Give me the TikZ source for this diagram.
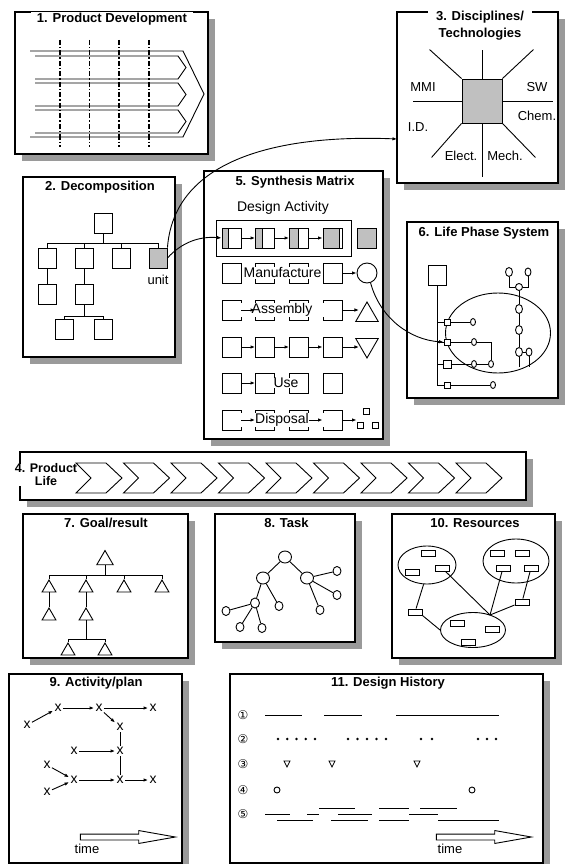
\documentclass[tikz,border=0pt]{standalone}
\usepackage{fontspec}
\setmainfont{Liberation Sans}
\newfontfamily\circfont{DejaVu Sans}
\usepackage{tikz}
\usetikzlibrary{arrows.meta,calc,shapes.geometric,shapes.arrows}
\definecolor{shadowgray}{HTML}{9A9A9A}
\definecolor{boxgray}{HTML}{C0C0C0}
\newcommand{\titlefont}{\fontsize{13}{15}\selectfont\bfseries}
\newcommand{\labelfont}{\fontsize{14}{16}\selectfont}
\newcommand{\smallfont}{\fontsize{13}{15}\selectfont}

\begin{document}
\begin{tikzpicture}[x=1pt,y=-1pt,line width=0.9pt,
  panelshadow/.style={fill=shadowgray},
  panelframe/.style={draw,fill=white,line width=1.2pt},
  paneltitle/.style={fill=white,inner xsep=#1,inner ysep=1pt,font=\titlefont,align=center},
  paneltitle/.default=6pt,
  tbox/.style={draw,fill=white,minimum width=18pt,minimum height=20pt,inner sep=0pt},
  mbox/.style={draw,minimum width=19pt,minimum height=20pt,inner sep=0pt},
  partfill/.style={path picture={\filldraw[fill=boxgray] (path picture bounding box.north west) rectangle ([xshift=#1]path picture bounding box.south west);}},
  masklabel/.style={fill=white,inner xsep=0.5pt,inner ysep=0.5pt,font=\labelfont},
  arrow/.style={-{Latex[length=4.5pt,width=3.5pt]},line width=0.9pt},
  lpsq/.style={draw,fill=white,minimum size=6pt,inner sep=0pt},
  lpoval/.style={draw,fill=white,ellipse,minimum width=5pt,minimum height=7pt,inner sep=0pt},
  goaltri/.style={draw,fill=white,regular polygon,regular polygon sides=3,minimum size=16pt,inner sep=0pt},
  taskbig/.style={draw,fill=white,ellipse,minimum width=13pt,minimum height=12pt,inner sep=0pt},
  tasksmall/.style={draw,fill=white,ellipse,minimum width=8pt,minimum height=9pt,inner sep=0pt},
  resbox/.style={draw,fill=white,minimum width=14pt,minimum height=6pt,inner sep=0pt},
  planx/.style={inner sep=1pt,font=\fontsize{14}{14}\selectfont},
  timearrow/.style={draw,fill=white,single arrow,single arrow head extend=3.5pt,single arrow tip angle=20,minimum height=95pt,inner sep=2.5pt}
]
\useasboundingbox (0,0) rectangle (565,864);

\fill[panelshadow] (22,19) rectangle (215,161);
\draw[panelframe] (15,12) rectangle (208,154);
\node[paneltitle] (devtitle) at (112,19) {1. Product Development};
\draw (30,51) -- (183,51) -- (204,94) -- (183,137) -- (30,137);
\foreach \y in {56,83,110}
  \draw (35,\y) -- (178,\y) -- (186,\y+11.5) -- (178,\y+23) -- (35,\y+23);
\foreach \x/\w in {60/1.4pt,89/0.8pt,119/1.4pt,149/1.4pt}
  \draw[line width=\w,dash pattern=on 5pt off 2pt on 1.5pt off 2pt] (\x,40) -- (\x,147);

\fill[panelshadow] (404,19) rectangle (565,190);
\draw[panelframe] (397,12) rectangle (558,183);
\node[paneltitle=8pt] (disctitle) at (480,26) {3. Disciplines/\\[2pt]Technologies};
\node[draw,fill=boxgray,minimum width=40pt,minimum height=44pt,inner sep=0pt] (core) at (482,101) {};
\draw (core.north) -- ++(0,-29);
\draw (core.south) -- ++(0,54);
\draw (core.west) -- ++(-49,0);
\draw (core.east) -- ++(51,0);
\draw (core.north west) -- ++(-32,-29);
\draw (core.north east) -- ++(31,-29);
\draw (core.south west) -- ++(-30,34);
\draw (core.south east) -- ++(33,34);
\node[font=\smallfont] (mmi) at (423,87) {MMI};
\node[font=\smallfont] (sw) at (537,87) {SW};
\node[font=\smallfont] (indd) at (418,127) {I.D.};
\node[font=\smallfont] (chem) at (537,116) {Chem.};
\node[font=\smallfont] (elect) at (461,156) {Elect.};
\node[font=\smallfont] (mech) at (505,156) {Mech.};
\coordinate (discin) at (397,139);

\fill[panelshadow] (30,184) rectangle (182,364);
\draw[panelframe] (23,177) rectangle (175,357);
\node[paneltitle=8.5pt] (decomptitle) at (100,187) {2. Decomposition};
\node[tbox] (root) at (103,223) {};
\node[tbox] (ch1) at (47,258) {};
\node[tbox] (ch2) at (84,258) {};
\node[tbox] (ch3) at (121,258) {};
\node[tbox,fill=boxgray] (unit) at (158,258) {};
\node[tbox] (ch11) at (47,294) {};
\node[tbox] (ch21) at (84,294) {};
\node[tbox] (ch211) at (64,329) {};
\node[tbox] (ch212) at (103,329) {};
\foreach \c in {ch1,ch2,ch3,unit}
  \draw (root.south) -- ++(0,10) -| (\c.north);
\draw (ch1) -- (ch11);
\draw (ch2) -- (ch21);
\foreach \c in {ch211,ch212}
  \draw (ch21.south) -- ++(0,12) -| (\c.north);
\node[font=\smallfont] (unitlabel) at (158,280) {unit};

\fill[panelshadow] (211,178) rectangle (390,446);
\draw[panelframe] (204,171) rectangle (383,439);
\node[paneltitle=13pt] (synthtitle) at (295,182) {5. Synthesis Matrix};
\node[font=\labelfont] (designact) at (283,208) {Design Activity};
\node[draw,minimum width=135pt,minimum height=36pt,inner sep=0pt] (activeband) at (283.5,238) {};
\node[mbox,partfill=6pt] (a1) at (231.5,238) {};
\node[mbox,partfill=7pt] (a2) at (265,238) {};
\node[mbox,partfill=9pt] (a3) at (299,238) {};
\node[mbox,partfill=16pt] (a4) at (332.5,238) {};
\node[mbox,fill=boxgray] (a5) at (367,238) {};
\draw[arrow] (a1) -- (a2);
\draw[arrow] (a2) -- (a3);
\draw[arrow] (a3) -- (a4);
\foreach \r/\y in {b/273,c/310,d/347,e/383,f/420}
  \foreach \c/\x in {1/231.5,2/265,3/299,4/332.5}
    \node[mbox] (\r\c) at (\x,\y) {};
\node[draw,circle,minimum size=20pt,inner sep=0pt] (b5) at (367,273) {};
\node[masklabel] (manuf) at (282.5,273) {Manufacture};
\draw[arrow] (b4) -- (b5);
\node[draw,regular polygon,regular polygon sides=3,minimum size=26pt,inner sep=0pt] (c5) at (367,315) {};
\node[masklabel,minimum width=86pt] (asmtxt) at (282,310) {Assembly};
\draw[arrow] (c1) -- (c2);
\draw[arrow] (c4.east) -- (c4.east -| c5.west);
\node[draw,regular polygon,regular polygon sides=3,shape border rotate=180,minimum size=26pt,inner sep=0pt] (d5) at (367,345) {};
\draw[arrow] (d1) -- (d2);
\draw[arrow] (d2) -- (d3);
\draw[arrow] (d3) -- (d4);
\draw[arrow] (d4.east) -- (d4.east -| d5.west);
\node[masklabel,inner xsep=2pt] (usetxt) at (286,383) {Use};
\draw[arrow] (e1) -- (e2);
\node[masklabel,minimum width=86pt] (disptxt) at (282,420) {Disposal};
\node[minimum width=20pt,minimum height=20pt,inner sep=0pt] (f5) at (367,420) {};
\node[draw,minimum size=6pt,inner sep=0pt] (f5a) at (366.5,411.5) {};
\node[draw,minimum size=6pt,inner sep=0pt] (f5b) at (360,425) {};
\node[draw,minimum size=6pt,inner sep=0pt] (f5c) at (375,425) {};
\draw[arrow] (f1) -- (f2);
\draw[arrow] (f3) -- (f4);
\draw[arrow] (f4) -- (f5);

\fill[panelshadow] (414,229) rectangle (565,405);
\draw[panelframe] (407,222) rectangle (558,398);
\node[paneltitle=7pt] (lifetitle) at (484,233) {6. Life Phase System};
\node[draw,ellipse,minimum width=105pt,minimum height=80pt,inner sep=0pt] (lifeoval) at (498,333) {};
\node[tbox] (lpmain) at (437.5,275) {};
\node[lpsq] (lsq1) at (447,322) {};
\node[lpsq] (lsq2) at (447,342) {};
\node[lpsq,minimum size=8pt] (lsq3) at (447,364) {};
\node[lpsq] (lsq4) at (447,385) {};
\foreach \s in {lsq1,lsq2,lsq3,lsq4}
  \draw (lpmain.south) |- (\s.west);
\node[lpoval] (lov1) at (473,322) {};
\node[lpoval] (lov2) at (474,342) {};
\node[lpoval] (lov3) at (474,364) {};
\node[lpoval] (lov3b) at (491,364) {};
\node[lpoval] (lov4) at (493,385) {};
\draw (lsq1) -- (lov1);
\draw (lsq2) -- (lov2);
\draw (lsq3) -- (lov3) -- (lov3b);
\draw (lsq4) -- (lov4);
\draw (lov2) -| (lov3b);
\node[lpoval,minimum width=7pt,minimum height=9pt] (rt1) at (509,272) {};
\node[lpoval,minimum width=6pt,minimum height=8pt] (rt2) at (528,272) {};
\node[lpoval,minimum width=7pt,minimum height=7pt] (rtm) at (519,287) {};
\node[lpoval,minimum width=7pt,minimum height=9pt] (rv1) at (519,309) {};
\node[lpoval,minimum width=7pt,minimum height=9pt] (rv2) at (519,330) {};
\node[lpoval,minimum width=7pt,minimum height=9pt] (rv3) at (519,352) {};
\node[lpoval,minimum width=6pt,minimum height=8pt] (rv3b) at (529,352) {};
\draw (rt1) |- (rtm);
\draw (rtm) -| (rt2);
\draw (rtm) -- (rv1) -- (rv2) -- (rv3);
\draw (rv3) -- ++(0,15);
\draw (rv3) -- (rv3b);
\draw (rv3b) -- ++(0,15);

\fill[panelshadow] (27,459) rectangle (533,507);
\draw[panelframe] (20,452) rectangle (526,500);
\node[paneltitle=1pt,inner ysep=0pt,font=\fontsize{12.5}{13}\selectfont\bfseries] (lifetitle4) at (46,475) {4. Product\\Life};
\foreach \i in {0,...,8}
  \draw ({76+47.5*\i},463) -- ({106+47.5*\i},463) -- ({122+47.5*\i},478) -- ({106+47.5*\i},493) -- ({76+47.5*\i},493) -- ({91+47.5*\i},478) -- cycle;

\fill[panelshadow] (30,521) rectangle (195,665);
\draw[panelframe] (23,514) rectangle (188,658);
\node[paneltitle=10pt] (goaltitle) at (106,523) {7. Goal/result};
\node[goaltri,minimum size=19pt] (g0) at (105,560) {};
\node[goaltri] (g1) at (49,588) {};
\node[goaltri] (g2) at (86,588) {};
\node[goaltri] (g3) at (124,588) {};
\node[goaltri] (g4) at (162,588) {};
\node[goaltri] (g11) at (49,616) {};
\node[goaltri] (g21) at (86,616) {};
\node[goaltri] (g211) at (68,651) {};
\node[goaltri] (g212) at (105,651) {};
\foreach \g in {g1,g2,g3,g4}
  \draw (g0.south) -- ++(0,10) -| (\g.north);
\draw (g1) -- (g11);
\draw (g2) -- (g21);
\foreach \g in {g211,g212}
  \draw (g21.south) -- ++(0,19) -| (\g.north);

\fill[panelshadow] (222,521) rectangle (362,649);
\draw[panelframe] (215,514) rectangle (355,642);
\node[paneltitle=9.5pt] (tasktitle) at (286.5,523) {8. Task};
\node[taskbig] (k0) at (285,557) {};
\node[taskbig] (k1) at (263,578) {};
\node[taskbig] (k2) at (307,578) {};
\node[tasksmall] (k21) at (337,571) {};
\node[tasksmall] (k22) at (337,595) {};
\node[tasksmall] (k23) at (320,610) {};
\node[tasksmall,minimum width=9pt,minimum height=10pt] (k11) at (255,603) {};
\node[tasksmall] (k12) at (279,606) {};
\node[tasksmall] (k111) at (226,611) {};
\node[tasksmall] (k112) at (240,627) {};
\node[tasksmall] (k113) at (262,628) {};
\draw (k0) -- (k1);
\draw (k0) -- (k2);
\foreach \k in {k21,k22,k23}
  \draw (k2) -- (\k);
\foreach \k in {k11,k12}
  \draw (k1) -- (\k);
\foreach \k in {k111,k112,k113}
  \draw (k11) -- (\k);

\fill[panelshadow] (399,521) rectangle (562,665);
\draw[panelframe] (392,514) rectangle (555,658);
\node[paneltitle=9pt] (restitle) at (475,523) {10. Resources};
\node[draw,ellipse,minimum width=58pt,minimum height=38pt,inner sep=0pt] (pool1) at (427,565) {};
\node[draw,ellipse,minimum width=66pt,minimum height=44pt,inner sep=0pt] (pool2) at (516,561) {};
\node[draw,ellipse,minimum width=65pt,minimum height=35pt,inner sep=0pt] (pool3) at (473,630) {};
\node[resbox] (r11) at (428,553) {};
\node[resbox] (r12) at (412,572) {};
\node[resbox] (r13) at (442,568) {};
\node[resbox] (r21) at (497,553) {};
\node[resbox] (r22) at (522,553) {};
\node[resbox] (r23) at (503,568) {};
\node[resbox] (r24) at (531,568) {};
\node[resbox] (r31) at (457,623) {};
\node[resbox] (r32) at (492,629) {};
\node[resbox] (r33) at (468,642) {};
\node[resbox] (rout1) at (415,612) {};
\node[resbox] (rout2) at (522,602) {};
\coordinate (hub) at (490,615);
\draw (pool1.-100) -- (rout1);
\draw (rout1.south east) -- (pool3.west);
\draw (r13) -- (hub);
\draw (r23) -- (hub);
\draw (r24) -- (rout2);
\draw (rout2) -- (hub);

\fill[panelshadow] (16,681) rectangle (189,870);
\draw[panelframe] (9,674) rectangle (182,863);
\node[paneltitle] (plantitle) at (96,683) {9. Activity/plan};
\node[planx] (pa) at (27,725) {x};
\node[planx] (pb) at (58,708) {x};
\node[planx] (pc) at (99,708) {x};
\node[planx] (pd) at (153,708) {x};
\node[planx] (pe) at (120,727) {x};
\node[planx] (pf) at (74,751) {x};
\node[planx] (pg) at (120,751) {x};
\node[planx] (ph) at (47,765) {x};
\node[planx] (pi) at (47,792) {x};
\node[planx] (pj) at (74,780) {x};
\node[planx] (pk) at (120,780) {x};
\node[planx] (pl) at (153,780) {x};
\draw[arrow] (pa) -- (pb);
\draw[arrow] (pb) -- (pc);
\draw[arrow] (pc) -- (pd);
\draw[arrow] (pc) -- (pe);
\draw[arrow] (pf) -- (pg);
\draw[arrow] (ph) -- (pj);
\draw[arrow] (pi) -- (pj);
\draw[arrow] (pj) -- (pk);
\draw[arrow] (pk) -- (pl);
\draw (pe) -- (pg) -- (pk);
\node[timearrow] (plantime) at (119.5,837) {};
\node[font=\smallfont] (plantimelabel) at (87,849) {time};

\fill[panelshadow] (237,681) rectangle (550,870);
\draw[panelframe] (230,674) rectangle (543,863);
\node[paneltitle] (histtitle) at (388,683) {11. Design History};
\foreach \n/\y/\d in {h1/715/①,h2/739/②,h3/764/③,h4/790/④,h5/814/⑤}
  \node[inner sep=0pt,font=\circfont\fontsize{12}{12}\selectfont] (\n) at (243,\y) {\d};
\foreach \a/\b in {265/302,324/362,396/499}
  \draw (\a,715) -- (\b,715);
\foreach \x in {278,287.25,296.5,305.75,315,348,357.5,367,376.5,386,421,432,478,487,496}
  \fill (\x,739) circle (1.4);
\foreach \x in {287,332,417}
  \draw[line width=0.8pt] (\x-3,761) -- (\x+3,761) -- (\x,767) -- cycle;
\foreach \x in {277,472}
  \draw (\x,790) circle (3);
\foreach \a/\b/\y in {265/290/814,277/313/820,307/319/814,319/355/808,338/372/814,331/368/820,379/409/808,379/409/820,409/438/814,420/457/808,438/499/820}
  \draw (\a,\y) -- (\b,\y);
\node[timearrow] (histtime) at (475.5,837) {};
\node[font=\smallfont] (histtimelabel) at (450,849) {time};

\draw[arrow] (unit.north east) .. controls (175,150) and (300,135) .. (discin);
\draw[arrow] (unit.east) .. controls (182,242) and (200,236) .. (a1.west);
\draw[arrow] (b5.-70) .. controls (380,318) and (410,340) .. (lsq2.west);
\end{tikzpicture}
\end{document}
